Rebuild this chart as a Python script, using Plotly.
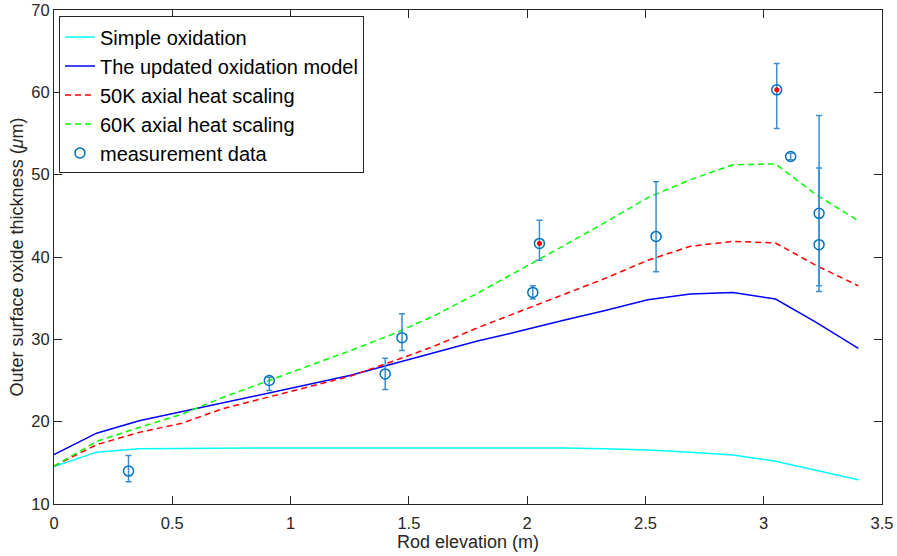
import plotly.graph_objects as go

# Axial nodes (m)
elev = [0, 0.18, 0.36, 0.54, 0.71, 0.89, 1.07, 1.25, 1.43, 1.61,
        1.79, 1.97, 2.15, 2.33, 2.51, 2.69, 2.87, 3.05, 3.22, 3.40]

simple_ox = [14.55, 16.3, 16.7, 16.75, 16.8, 16.8, 16.8, 16.8, 16.8, 16.8,
             16.8, 16.8, 16.8, 16.7, 16.55, 16.3, 15.95, 15.2, 14.1, 12.95]
updated_model = [16.0, 18.6, 20.1, 21.2, 22.3, 23.4, 24.5, 25.6, 27.0, 28.4,
                 29.8, 31.0, 32.3, 33.5, 34.8, 35.5, 35.7, 34.9, 32.1, 28.9]
scale_50k = [14.6, 17.2, 18.7, 19.8, 21.55, 22.85, 24.15, 25.5, 27.3, 29.2,
             31.4, 33.4, 35.4, 37.4, 39.6, 41.3, 41.9, 41.7, 39.0, 36.5]
scale_60k = [14.6, 17.6, 19.3, 20.9, 22.9, 24.8, 26.7, 28.6, 30.6, 32.9,
             35.6, 38.4, 41.3, 44.2, 47.2, 49.4, 51.2, 51.3, 47.6, 44.4]

# Measurements
meas_x = [0.315, 0.91, 1.40, 1.471, 2.024, 2.052, 2.545, 3.055, 3.114, 3.234, 3.234]
meas_y = [14.0, 25.0, 25.8, 30.2, 35.7, 41.65, 42.5, 60.3, 52.2, 45.3, 41.5]
meas_lo = [12.7, 23.8, 23.9, 28.65, 34.9, 39.6, 38.2, 55.6, 51.8, 35.8, 36.5]
meas_hi = [15.9, 25.4, 27.7, 33.1, 36.5, 44.45, 49.15, 63.5, 52.6, 57.2, 50.8]
highlight_idx = [5, 7]

FONT = "Arial, Liberation Sans, Helvetica, sans-serif"
AX = "#262626"

fig = go.Figure()
fig.add_trace(go.Scatter(x=elev, y=simple_ox, mode="lines", name="Simple oxidation",
                         line=dict(color="#00FFFF", width=1.5)))
fig.add_trace(go.Scatter(x=elev, y=updated_model, mode="lines", name="The updated oxidation model",
                         line=dict(color="#0000FF", width=1.5)))
fig.add_trace(go.Scatter(x=elev, y=scale_50k, mode="lines", name="50K axial heat scaling",
                         line=dict(color="#FF0000", width=1.5, dash="6px,4px")))
fig.add_trace(go.Scatter(x=elev, y=scale_60k, mode="lines", name="60K axial heat scaling",
                         line=dict(color="#00FF00", width=1.5, dash="6px,4px")))
fig.add_trace(go.Scatter(
    x=meas_x, y=meas_y, mode="markers", name="measurement data",
    marker=dict(symbol="circle-open", size=10, color="#0072BD", line=dict(width=1.5)),
    error_y=dict(type="data", symmetric=False,
                 array=[h - y for h, y in zip(meas_hi, meas_y)],
                 arrayminus=[y - l for l, y in zip(meas_lo, meas_y)],
                 color="#3A8FD0", thickness=1.5, width=3),
))
fig.add_trace(go.Scatter(
    x=[meas_x[i] for i in highlight_idx], y=[meas_y[i] for i in highlight_idx],
    mode="markers", showlegend=False, hoverinfo="skip",
    marker=dict(symbol="circle", size=5, color="#FF0000"),
))

axis_common = dict(showline=True, linecolor=AX, linewidth=1, mirror="ticks",
                   ticks="inside", ticklen=8, tickcolor=AX, tickwidth=1,
                   showgrid=False, zeroline=False, automargin=False,
                   tickfont=dict(family=FONT, size=16.5, color=AX))

fig.update_layout(
    width=897, height=556,
    margin=dict(l=54, r=15, t=10, b=52, autoexpand=False),
    paper_bgcolor="white", plot_bgcolor="white",
    font=dict(family=FONT, color=AX),
    xaxis=dict(range=[0, 3.5], dtick=0.5, tick0=0, ticklabelstandoff=4,
               title=dict(text="Rod elevation (m)", font=dict(family=FONT, size=18, color=AX), standoff=4),
               **axis_common),
    yaxis=dict(range=[10, 70], dtick=10, tick0=10,
               title=dict(text="Outer surface oxide thickness (<i>μ</i>m)",
                          font=dict(family=FONT, size=18, color=AX), standoff=3),
               **axis_common),
    legend=dict(x=0.006, y=0.987, xanchor="left", yanchor="top",
                bgcolor="white", bordercolor=AX, borderwidth=1,
                font=dict(family=FONT, size=20, color="black"),
                tracegroupgap=0, itemwidth=30),
    showlegend=True,
)

fig.write_html("out.html",
               config={"displayModeBar": False},
               post_script="document.body.style.margin='0';document.body.style.overflow='hidden';")
